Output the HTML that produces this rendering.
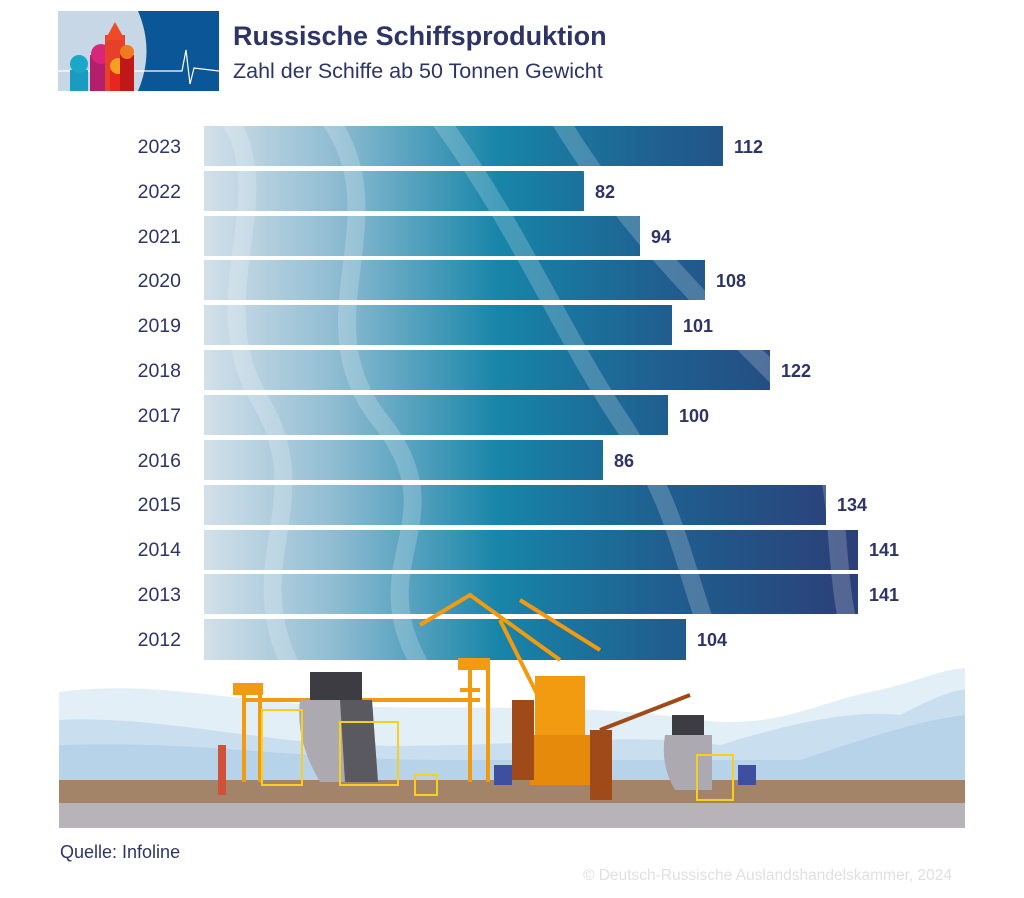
<!DOCTYPE html>
<html><head><meta charset="utf-8"><style>
body{margin:0;background:#fff;width:1024px;height:893px;overflow:hidden;font-family:"Liberation Sans",sans-serif}
</style></head><body>
<svg width="1024" height="893" viewBox="0 0 1024 893" xmlns="http://www.w3.org/2000/svg">
<defs>
<linearGradient id="bg" gradientUnits="userSpaceOnUse" x1="204" y1="0" x2="858" y2="0">
<stop offset="0" stop-color="#d3e0ea"/>
<stop offset="0.2" stop-color="#8fbcd2"/>
<stop offset="0.45" stop-color="#1785a9"/>
<stop offset="0.7" stop-color="#1f5f8f"/>
<stop offset="1" stop-color="#2b3f78"/>
</linearGradient>
<clipPath id="bars">
<rect x="204" y="126" width="519" height="40"/>
<rect x="204" y="171" width="380" height="40"/>
<rect x="204" y="216" width="436" height="40"/>
<rect x="204" y="260" width="501" height="40"/>
<rect x="204" y="305" width="468" height="40"/>
<rect x="204" y="350" width="566" height="40"/>
<rect x="204" y="395" width="464" height="40"/>
<rect x="204" y="440" width="399" height="40"/>
<rect x="204" y="485" width="622" height="40"/>
<rect x="204" y="530" width="654" height="40"/>
<rect x="204" y="574" width="654" height="40"/>
<rect x="204" y="619" width="482" height="41"/>
</clipPath>
</defs>
<rect x="58" y="11" width="161" height="80" fill="#c8d7e6"/>
<path d="M138 11 H219 V91 H138 Q155 51 138 11Z" fill="#0b5696"/>
<polyline points="58,71 182,71 186,50 190,84 194,68 219,71" fill="none" stroke="#fff" stroke-width="1.2"/>
<rect x="70" y="70" width="18" height="21" fill="#1a9bc0"/><circle cx="79" cy="64" r="9" fill="#1aa8c8"/>
<rect x="90" y="55" width="22" height="36" fill="#b31f6c"/><circle cx="101" cy="54" r="10" fill="#d8267a"/>
<rect x="105" y="35" width="20" height="56" fill="#e6402a"/><polygon points="105,40 115,22 125,40" fill="#ee4a28"/>
<rect x="110" y="70" width="16" height="21" fill="#e8261e"/><circle cx="118" cy="66" r="8" fill="#f5a020"/>
<rect x="120" y="55" width="14" height="36" fill="#c01818"/><circle cx="127" cy="52" r="7" fill="#f07a20"/>
<text x="233" y="45" font-size="27" font-weight="bold" fill="#2d3466">Russische Schiffsproduktion</text>
<text x="233" y="78" font-size="21.5" fill="#2d3466">Zahl der Schiffe ab 50 Tonnen Gewicht</text>
<g clip-path="url(#bars)">
<rect x="204" y="120" width="660" height="545" fill="url(#bg)"/>
<g fill="none" stroke="#ffffff" stroke-opacity="0.2" stroke-width="18">
<path d="M230 120 C280 200 200 300 260 400 S240 560 290 665"/>
<path d="M330 120 C400 220 300 320 380 420 S360 560 420 665"/>
<path d="M440 120 C520 230 560 330 620 420 S680 560 720 665"/>
<path d="M560 120 C620 220 700 300 780 380 S820 560 860 665"/>
</g>
</g>
<g font-size="19.5" fill="#2d3466">
<text x="181" y="153" text-anchor="end">2023</text>
<text x="181" y="198" text-anchor="end">2022</text>
<text x="181" y="243" text-anchor="end">2021</text>
<text x="181" y="287" text-anchor="end">2020</text>
<text x="181" y="332" text-anchor="end">2019</text>
<text x="181" y="377" text-anchor="end">2018</text>
<text x="181" y="422" text-anchor="end">2017</text>
<text x="181" y="467" text-anchor="end">2016</text>
<text x="181" y="511" text-anchor="end">2015</text>
<text x="181" y="556" text-anchor="end">2014</text>
<text x="181" y="601" text-anchor="end">2013</text>
<text x="181" y="646" text-anchor="end">2012</text>
</g>
<g font-size="18" font-weight="bold" fill="#2d3466">
<text x="734" y="153">112</text>
<text x="595" y="198">82</text>
<text x="651" y="243">94</text>
<text x="716" y="287">108</text>
<text x="683" y="332">101</text>
<text x="781" y="377">122</text>
<text x="679" y="422">100</text>
<text x="614" y="467">86</text>
<text x="837" y="511">134</text>
<text x="869" y="556">141</text>
<text x="869" y="601">141</text>
<text x="697" y="646">104</text>
</g>
<path d="M59 692 C150 680 220 700 320 705 C450 712 560 700 700 720 C780 730 820 700 880 690 C920 680 940 670 965 668 V780 H59Z" fill="#e3eff7"/>
<path d="M59 720 C150 715 250 740 350 745 C500 750 620 730 720 745 C800 720 860 710 900 715 C930 700 950 690 965 690 V780 H59Z" fill="#c9dff0"/>
<path d="M59 745 C200 740 300 760 450 760 C600 760 700 760 800 760 C860 740 920 720 965 715 V780 H59Z" fill="#b6d3ea"/>
<rect x="59" y="780" width="906" height="23" fill="#a38468"/>
<rect x="59" y="803" width="906" height="25" fill="#b8b3b8"/>
<g fill="none" stroke="#f29a10" stroke-width="4">
<path d="M244 690 V782 M260 690 V782 M244 700 H480 M470 660 V782 M488 660 V782 M460 690 H480"/>
<path d="M420 625 L470 595 L560 660 M520 600 L600 650 M540 700 L500 620"/>
</g>
<rect x="233" y="683" width="30" height="12" fill="#f29a10"/>
<rect x="458" y="658" width="32" height="12" fill="#f29a10"/>
<rect x="535" y="676" width="50" height="60" fill="#f29a10"/>
<rect x="530" y="735" width="60" height="50" fill="#e68a0c"/>
<rect x="512" y="700" width="22" height="80" fill="#a04a1a"/>
<rect x="590" y="730" width="22" height="70" fill="#a04a1a"/>
<path d="M600 730 L690 695" stroke="#a04a1a" stroke-width="4"/>
<rect x="310" y="672" width="52" height="28" fill="#3d3c42"/>
<path d="M300 700 H372 L378 782 H320 Q295 740 300 700Z" fill="#acaab0"/>
<path d="M340 700 H372 L378 782 H345Z" fill="#5a5960"/>
<rect x="672" y="715" width="32" height="20" fill="#3d3c42"/>
<path d="M665 735 H712 V790 H675 Q660 765 665 735Z" fill="#acaab0"/>
<g stroke="#f5d020" stroke-width="2" fill="none">
<rect x="262" y="710" width="40" height="75"/><rect x="340" y="722" width="58" height="63"/><rect x="697" y="755" width="36" height="45"/><rect x="415" y="775" width="22" height="20"/>
</g>
<rect x="218" y="745" width="8" height="50" fill="#d05038"/>
<rect x="494" y="765" width="18" height="20" fill="#3f4fa0"/>
<rect x="738" y="765" width="18" height="20" fill="#3f4fa0"/>
<text x="60" y="858" font-size="18" fill="#2d3466">Quelle: Infoline</text>
<text x="952" y="880" font-size="15.5" fill="#e0e0e0" text-anchor="end">© Deutsch-Russische Auslandshandelskammer, 2024</text>
</svg>
</body></html>
